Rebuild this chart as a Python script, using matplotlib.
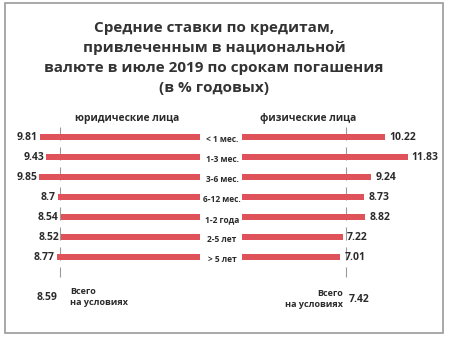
import numpy as np
import matplotlib
matplotlib.use("Agg")
import matplotlib.pyplot as plt
import matplotlib.patches as patches
import matplotlib.transforms as mtransforms

""" data """
terms = ['< 1 мес.', '1-3 мес.', '3-6 мес.', '6-12 мес.', '1-2 года', '2-5 лет', '> 5 лет']
legal = [9.81, 9.43, 9.85, 8.7, 8.54, 8.52, 8.77]
private = [10.22, 11.83, 9.24, 8.73, 8.82, 7.22, 7.01]
legal_total = 8.59
private_total = 7.42
title = ('Средние ставки по кредитам,\nпривлеченным в национальной\n'
         'валюте в июле 2019 по срокам погашения\n(в % годовых)')

""" style """
plt.rcParams['font.family'] = ['Open Sans', 'DejaVu Sans']
plt.rcParams['lines.scale_dashes'] = False
bar_color = '#e0525a'
text_color = '#2b2b2b'
W, H = 450, 340

fig = plt.figure(figsize=(W / 100, H / 100), dpi=100)

# left axis: bars grow to the left, zero at x=200px
ax_l = fig.add_axes([0, 0, 200 / W, 1])
ax_l.set_xlim(200 / 16.3, 0)
# right axis: bars grow to the right, zero at x=242px
ax_r = fig.add_axes([242 / W, 0, 208 / W, 1])
ax_r.set_xlim(0, 208 / 14.0)

rows = np.arange(len(terms))
for ax in (ax_l, ax_r):
    ax.set_ylim((H - 137) / 20, -137 / 20)
    ax.axis('off')

# reference lines at the total value
for ax, total in ((ax_l, legal_total), (ax_r, private_total)):
    ax.plot([total, total], [-0.5, 7.0], color='#9a9a9a', lw=0.8,
            linestyle=(0, (9.4, 5.0)), zorder=1)

ax_l.barh(rows, legal, height=0.3, color=bar_color, zorder=2)
ax_r.barh(rows, private, height=0.3, color=bar_color, zorder=2)

for i, v in enumerate(legal):
    ax_l.annotate(f'{v:g}', (v, i), xytext=(-1.5, 0), textcoords='offset points',
                  ha='right', va='center', fontsize=7.5, fontweight='bold', color=text_color)
for i, v in enumerate(private):
    ax_r.annotate(f'{v:g}', (v, i), xytext=(3, 0), textcoords='offset points',
                  ha='left', va='center', fontsize=7.5, fontweight='bold', color=text_color)

# category labels in the middle
trans = mtransforms.blended_transform_factory(fig.transFigure, ax_l.transData)
for i, t in enumerate(terms):
    fig.text(222 / W, i + 0.15, t, transform=trans, ha='center', va='center',
             fontsize=6.0, fontweight='bold', color=text_color)

# column headers
fig.text(127 / W, 1 - 119 / H, 'юридические лица', ha='center', va='center',
         fontsize=7.4, fontweight='bold', color=text_color)
fig.text(308 / W, 1 - 119 / H, 'физические лица', ha='center', va='center',
         fontsize=7.4, fontweight='bold', color=text_color)

# totals
fig.text(47 / W, 1 - 298 / H, f'{legal_total:g}', ha='center', va='center',
         fontsize=7.5, fontweight='bold', color=text_color)
fig.text(70 / W, 1 - 297 / H, 'Всего\nна условиях', ha='left', va='center',
         fontsize=6.5, fontweight='bold', color=text_color, linespacing=1.3)
fig.text(349 / W, 1 - 299 / H, f'{private_total:g}', ha='left', va='center',
         fontsize=7.5, fontweight='bold', color=text_color)
fig.text(343 / W, 1 - 299 / H, 'Всего\nна условиях', ha='right', va='center',
         fontsize=6.5, fontweight='bold', color=text_color, linespacing=1.3,
         multialignment='right')

# title
fig.text(214 / W, 1 - 58 / H, title, ha='center', va='center', fontsize=11,
         fontweight='bold', color='#333333', linespacing=1.52)

# frame
fig.patches.append(patches.Rectangle((5 / W, 7 / H), 438 / W, 330 / H,
                                     transform=fig.transFigure, fill=False,
                                     edgecolor='#9a9a9a', lw=1.2))

fig.savefig('out.png', dpi=100)
